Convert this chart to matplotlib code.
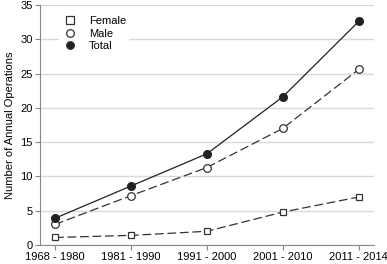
import matplotlib
matplotlib.use("Agg")
import matplotlib.pyplot as plt

periods = ["1968 - 1980", "1981 - 1990", "1991 - 2000", "2001 - 2010", "2011 - 2014"]
female = [1.1, 1.4, 2.0, 4.8, 7.0]
male = [3.0, 7.2, 11.3, 17.0, 25.6]
total = [3.9, 8.6, 13.3, 21.6, 32.6]

plt.rcParams['font.family'] = ['Liberation Sans', 'DejaVu Sans']

fig = plt.figure(figsize=(3.87, 2.64), dpi=100)
ax = fig.add_axes([0.103, 0.072, 0.863, 0.909])
x = range(len(periods))

ax.plot(x, female, color="#333333", lw=0.9, dashes=(7, 3), marker="s", ms=5,
        mfc="white", mec="#333333", mew=0.9, label="Female")
ax.plot(x, male, color="#333333", lw=0.9, dashes=(7, 3), marker="o", ms=5.5,
        mfc="white", mec="#333333", mew=0.9, label="Male")
ax.plot(x, total, color="#222222", lw=0.9, marker="o", ms=5.5,
        mfc="#222222", mec="#222222", label="Total")

ax.set_xlim(-0.2, 4.2)
ax.set_ylim(0, 35)
ax.set_yticks(range(0, 36, 5))
ax.set_xticks(list(x))
ax.set_xticklabels(periods)
ax.yaxis.grid(True, color="#d9d9d9", lw=1)
ax.set_axisbelow(True)
for s in ["top", "right"]:
    ax.spines[s].set_visible(False)
for s in ["left", "bottom"]:
    ax.spines[s].set_color("#888888")
ax.tick_params(colors="#888888", labelcolor="black", labelsize=8, length=3.5, pad=1.5)
ax.set_ylabel("Number of Annual Operations", fontsize=8, labelpad=4)

handles = [plt.Line2D([], [], ls="none", marker=m, ms=5.5, mfc=fc, mec="#333333", mew=0.9)
           for m, fc in [("s", "white"), ("o", "white"), ("o", "#222222")]]
ax.legend(handles, ["Female", "Male", "Total"], loc="upper left",
          bbox_to_anchor=(0.04, 0.99), frameon=True, edgecolor="none",
          framealpha=1, fontsize=8, handlelength=1.5, labelspacing=0.2,
          borderpad=0.3, handletextpad=0.9)

plt.savefig("out.png", dpi=100)
